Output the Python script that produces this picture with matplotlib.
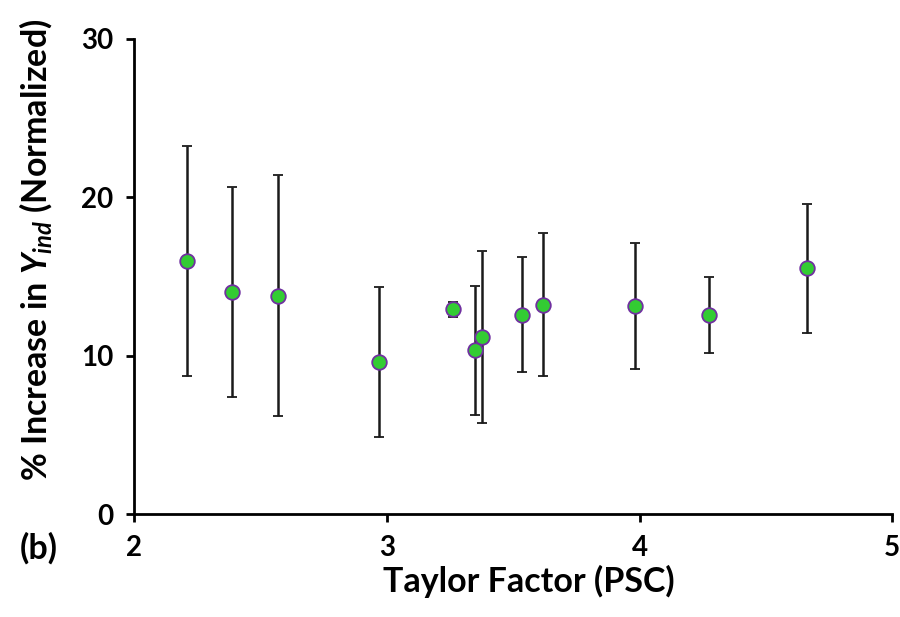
import matplotlib
matplotlib.use("Agg")
import matplotlib.pyplot as plt

# Taylor factor vs % increase in Y_ind (normalized), with error bars
taylor = [2.210, 2.385, 2.567, 2.967, 3.261, 3.348, 3.376, 3.535, 3.616, 3.981, 4.274, 4.662]
increase = [16.0, 14.0, 13.8, 9.6, 12.93, 10.33, 11.2, 12.6, 13.23, 13.14, 12.58, 15.52]
err = [7.27, 6.64, 7.62, 4.76, 0.48, 4.09, 5.43, 3.61, 4.50, 3.98, 2.39, 4.08]

plt.rcParams["font.family"] = ["Lato", "DejaVu Sans"]
plt.rcParams["font.weight"] = "bold"
plt.rcParams["mathtext.fontset"] = "custom"
plt.rcParams["mathtext.it"] = "Lato:italic:bold"
plt.rcParams["mathtext.rm"] = "Lato:bold"

fig = plt.figure(figsize=(9, 6.17), dpi=100)
ax = fig.add_axes([0.1492, 0.1669, 0.8422, 0.7699])

ax.errorbar(taylor, increase, yerr=err, fmt="o", color="#1a1a1a",
            elinewidth=1.8, capsize=3.6, capthick=1.8,
            markersize=10.5, markerfacecolor="#33cc33",
            markeredgecolor="#7030a0", markeredgewidth=1.3, zorder=3)

ax.set_xlim(2, 5)
ax.set_ylim(0, 30)
ax.set_xticks([2, 3, 4, 5])
ax.set_yticks([0, 10, 20, 30])

for side in ["top", "right"]:
    ax.spines[side].set_visible(False)
for side in ["left", "bottom"]:
    ax.spines[side].set_linewidth(2)
    ax.spines[side].set_color("black")

ax.tick_params(axis="both", direction="out", length=6, width=2,
               labelsize=20, pad=9)
for lab in ax.get_xticklabels() + ax.get_yticklabels():
    lab.set_fontweight("bold")

ax.set_xlabel("Taylor Factor (PSC)", fontsize=24.5, fontweight="bold")
ax.xaxis.set_label_coords(0.521, -0.108)
ax.set_ylabel(r"% Increase in $Y_{ind}$ (Normalized)", fontsize=24.5,
              fontweight="bold")
ax.yaxis.set_label_coords(-0.106, 0.556)

fig.text(0.022, 0.111, "(b)", fontsize=24.5, fontweight="bold", va="center")

fig.savefig("out.png", dpi=100)
